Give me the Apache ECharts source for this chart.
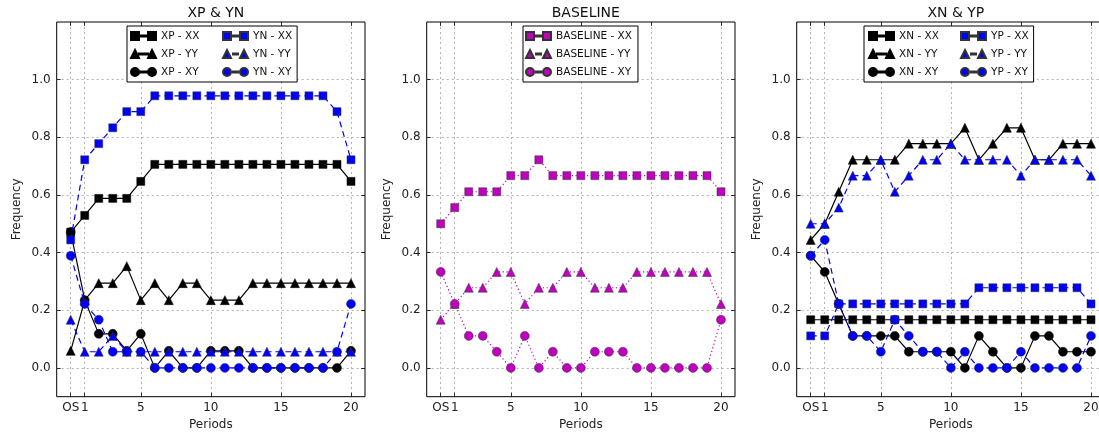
<!DOCTYPE html>
<html>
<head>
<meta charset="utf-8">
<script src="https://cdn.jsdelivr.net/npm/echarts@6/dist/echarts.min.js"></script>
<style>
html, body { margin: 0; padding: 0; background: #fff; }
#main { width: 1099px; height: 439px; }
</style>
</head>
<body>
<div id="main"></div>
<script>
// periods: 0 is shown as "OS"
var periods = [0, 1, 2, 3, 4, 5, 6, 7, 8, 9, 10, 11, 12, 13, 14, 15, 16, 17, 18, 19, 20];
var periodTicks = [0, 1, 5, 10, 15, 20];
var freqTicks = [0, 0.2, 0.4, 0.6, 0.8, 1.0];
var panelTitles = ['XP & YN', 'BASELINE', 'XN & YP'];

// panel 1
var xpXX = [0.471, 0.529, 0.588, 0.588, 0.588, 0.647, 0.706, 0.706, 0.706, 0.706, 0.706, 0.706, 0.706, 0.706, 0.706, 0.706, 0.706, 0.706, 0.706, 0.706, 0.647];
var xpYY = [0.059, 0.235, 0.294, 0.294, 0.353, 0.235, 0.294, 0.235, 0.294, 0.294, 0.235, 0.235, 0.235, 0.294, 0.294, 0.294, 0.294, 0.294, 0.294, 0.294, 0.294];
var xpXY = [0.471, 0.235, 0.118, 0.118, 0.059, 0.118, 0, 0.059, 0, 0, 0.059, 0.059, 0.059, 0, 0, 0, 0, 0, 0, 0, 0.059];
var ynXX = [0.444, 0.722, 0.778, 0.833, 0.889, 0.889, 0.944, 0.944, 0.944, 0.944, 0.944, 0.944, 0.944, 0.944, 0.944, 0.944, 0.944, 0.944, 0.944, 0.889, 0.722];
var ynYY = [0.167, 0.056, 0.056, 0.111, 0.056, 0.056, 0.056, 0.056, 0.056, 0.056, 0.056, 0.056, 0.056, 0.056, 0.056, 0.056, 0.056, 0.056, 0.056, 0.056, 0.056];
var ynXY = [0.389, 0.222, 0.167, 0.056, 0.056, 0.056, 0, 0, 0, 0, 0, 0, 0, 0, 0, 0, 0, 0, 0, 0.056, 0.222];

// panel 2
var baseXX = [0.5, 0.556, 0.611, 0.611, 0.611, 0.667, 0.667, 0.722, 0.667, 0.667, 0.667, 0.667, 0.667, 0.667, 0.667, 0.667, 0.667, 0.667, 0.667, 0.667, 0.611];
var baseYY = [0.167, 0.222, 0.278, 0.278, 0.333, 0.333, 0.222, 0.278, 0.278, 0.333, 0.333, 0.278, 0.278, 0.278, 0.333, 0.333, 0.333, 0.333, 0.333, 0.333, 0.222];
var baseXY = [0.333, 0.222, 0.111, 0.111, 0.056, 0, 0.111, 0, 0.056, 0, 0, 0.056, 0.056, 0.056, 0, 0, 0, 0, 0, 0, 0.167];

// panel 3
var xnXX = [0.167, 0.167, 0.167, 0.167, 0.167, 0.167, 0.167, 0.167, 0.167, 0.167, 0.167, 0.167, 0.167, 0.167, 0.167, 0.167, 0.167, 0.167, 0.167, 0.167, 0.167];
var xnYY = [0.444, 0.5, 0.611, 0.722, 0.722, 0.722, 0.722, 0.778, 0.778, 0.778, 0.778, 0.833, 0.722, 0.778, 0.833, 0.833, 0.722, 0.722, 0.778, 0.778, 0.778];
var xnXY = [0.389, 0.333, 0.222, 0.111, 0.111, 0.111, 0.111, 0.056, 0.056, 0.056, 0.056, 0, 0.111, 0.056, 0, 0, 0.111, 0.111, 0.056, 0.056, 0.056];
var ypXX = [0.111, 0.111, 0.222, 0.222, 0.222, 0.222, 0.222, 0.222, 0.222, 0.222, 0.222, 0.222, 0.278, 0.278, 0.278, 0.278, 0.278, 0.278, 0.278, 0.278, 0.222];
var ypYY = [0.5, 0.5, 0.556, 0.667, 0.667, 0.722, 0.611, 0.667, 0.722, 0.722, 0.778, 0.722, 0.722, 0.722, 0.722, 0.667, 0.722, 0.722, 0.722, 0.722, 0.667];
var ypXY = [0.389, 0.444, 0.222, 0.111, 0.111, 0.056, 0.167, 0.111, 0.056, 0.056, 0, 0.056, 0, 0, 0, 0.056, 0, 0, 0, 0, 0.111];

var BLACK = '#000000', BLUE = '#0000ff', MAG = '#bf00bf';
var FONT = 'DejaVu Sans';

// legend icons: two markers joined by a short line, like the matplotlib legend
var joinSolid = ' M8,3.5h9v1h-9z';
var joinDash = ' M10,3.5h5v1h-5z';
var joinDot = ' M10,3.5h1v1h-1z M12,3.5h1v1h-1z M14,3.5h1v1h-1z';
var iconShape = {
  rect: 'M0,0h8v8h-8z M17,0h8v8h-8z',
  triangle: 'M4,0L8,8H0z M21,0L25,8H17z',
  circle: 'M0,4a4,4 0 1,0 8,0a4,4 0 1,0 -8,0z M17,4a4,4 0 1,0 8,0a4,4 0 1,0 -8,0z'
};
function icon(sym, style) {
  var j = style === 'solid' ? joinSolid : (style === 'dashed' ? joinDash : joinDot);
  return 'path://' + iconShape[sym] + j;
}

var panels = [
  { lines: [
      { name: 'XP - XX', data: xpXX, color: BLACK, sym: 'rect', style: 'solid' },
      { name: 'XP - YY', data: xpYY, color: BLACK, sym: 'triangle', style: 'solid' },
      { name: 'XP - XY', data: xpXY, color: BLACK, sym: 'circle', style: 'solid' },
      { name: 'YN - XX', data: ynXX, color: BLUE, sym: 'rect', style: 'dashed' },
      { name: 'YN - YY', data: ynYY, color: BLUE, sym: 'triangle', style: 'dashed' },
      { name: 'YN - XY', data: ynXY, color: BLUE, sym: 'circle', style: 'dashed' }
    ], legendLeft: 127, pad: [3, 5, 3, 3] },
  { lines: [
      { name: 'BASELINE - XX', data: baseXX, color: MAG, sym: 'rect', style: 'dotted' },
      { name: 'BASELINE - YY', data: baseYY, color: MAG, sym: 'triangle', style: 'dotted' },
      { name: 'BASELINE - XY', data: baseXY, color: MAG, sym: 'circle', style: 'dotted' }
    ], legendLeft: 523, pad: [3, 6, 3, 2] },
  { lines: [
      { name: 'XN - XX', data: xnXX, color: BLACK, sym: 'rect', style: 'solid' },
      { name: 'XN - YY', data: xnYY, color: BLACK, sym: 'triangle', style: 'solid' },
      { name: 'XN - XY', data: xnXY, color: BLACK, sym: 'circle', style: 'solid' },
      { name: 'YP - XX', data: ypXX, color: BLUE, sym: 'rect', style: 'dashed' },
      { name: 'YP - YY', data: ypYY, color: BLUE, sym: 'triangle', style: 'dashed' },
      { name: 'YP - XY', data: ypXY, color: BLUE, sym: 'circle', style: 'dashed' }
    ], legendLeft: 864, pad: [3, 5, 3, 4] }
];

var gridLeft = [56.7, 426.7, 796.7];
var gridTop = 22, gridW = 308.3, gridH = 374.7;

var grids = [], xAxes = [], yAxes = [], series = [], legends = [], titles = [];
var splitStyle = { show: true, lineStyle: { color: '#a0a0a0', type: [2, 3], width: 0.8 } };
var tickStyle = { show: true, inside: true, length: 4, lineStyle: { color: '#000', width: 0.8 } };
var noLine = { show: false, onZero: false };

panels.forEach(function (p, i) {
  grids.push({ left: gridLeft[i], top: gridTop, width: gridW, height: gridH,
    outerBoundsMode: 'none', containLabel: false,
    show: true, borderColor: '#000', borderWidth: 1, backgroundColor: '#fff' });
  titles.push({ text: panelTitles[i], left: gridLeft[i] + gridW / 2, top: 1, textAlign: 'center',
    textStyle: { fontFamily: FONT, fontSize: 14, fontWeight: 'normal', color: '#111' } });

  xAxes.push({
    type: 'value', gridIndex: i, position: 'bottom', min: -1, max: 21,
    name: 'Periods', nameLocation: 'middle', nameGap: 22,
    nameTextStyle: { fontFamily: FONT, fontSize: 12, color: '#222' },
    axisLine: noLine,
    axisTick: Object.assign({ customValues: periodTicks }, tickStyle),
    axisLabel: { customValues: periodTicks, margin: 5, fontFamily: FONT, fontSize: 12, color: '#222',
      formatter: function (v) { return v === 0 ? 'OS' : String(v); } },
    splitLine: splitStyle
  });
  xAxes.push({
    type: 'value', gridIndex: i, position: 'top', min: -1, max: 21,
    axisLine: noLine,
    axisTick: Object.assign({ customValues: periodTicks }, tickStyle),
    axisLabel: { show: false }, splitLine: { show: false }
  });
  yAxes.push({
    type: 'value', gridIndex: i, position: 'left', min: -0.1, max: 1.2,
    name: 'Frequency', nameLocation: 'middle', nameGap: 34, nameRotate: 90,
    nameTextStyle: { fontFamily: FONT, fontSize: 12, color: '#222' },
    axisLine: noLine,
    axisTick: Object.assign({ customValues: freqTicks }, tickStyle),
    axisLabel: { customValues: freqTicks, margin: 6, fontFamily: FONT, fontSize: 12, color: '#222',
      formatter: function (v) { return v.toFixed(1); } },
    splitLine: splitStyle
  });
  yAxes.push({
    type: 'value', gridIndex: i, position: 'right', min: -0.1, max: 1.2,
    axisLine: noLine,
    axisTick: Object.assign({ customValues: freqTicks }, tickStyle),
    axisLabel: { show: false }, splitLine: { show: false }
  });

  var legendData = [];
  p.lines.forEach(function (l, k) {
    series.push({
      type: 'line', name: l.name, xAxisIndex: 2 * i, yAxisIndex: 2 * i,
      data: periods.map(function (x, n) { return [x, l.data[n]]; }),
      symbol: l.sym, symbolSize: l.sym === 'rect' ? 8 : 9,
      showAllSymbol: true,
      lineStyle: { color: l.color, width: 1.2,
        type: l.style === 'solid' ? 'solid' : (l.style === 'dashed' ? [6, 4] : [1.2, 2.6]) },
      itemStyle: { color: l.color, borderColor: l.color === BLACK ? '#000' : '#333', borderWidth: 0.5 },
      emphasis: { disabled: true },
      z: 3 + k
    });
    var item = { name: l.name, icon: icon(l.sym, l.style) };
    if (p.lines.length > 3 && k < 3) item.textStyle = { width: 57 };
    legendData.push(item);
  });
  legends.push({
    data: legendData, left: p.legendLeft, top: 26, orient: 'vertical', height: 52,
    itemWidth: 25, itemHeight: 8, itemGap: 4, padding: p.pad,
    backgroundColor: '#fff', borderColor: '#000', borderWidth: 1, borderRadius: 0,
    selectedMode: false,
    textStyle: { fontFamily: FONT, fontSize: 10.5, lineHeight: 14, color: '#111' }
  });
});

var chart = echarts.init(document.getElementById('main'));
chart.setOption({
  animation: false,
  backgroundColor: '#fff',
  title: titles,
  grid: grids,
  xAxis: xAxes,
  yAxis: yAxes,
  legend: legends,
  series: series
});
</script>
</body>
</html>
